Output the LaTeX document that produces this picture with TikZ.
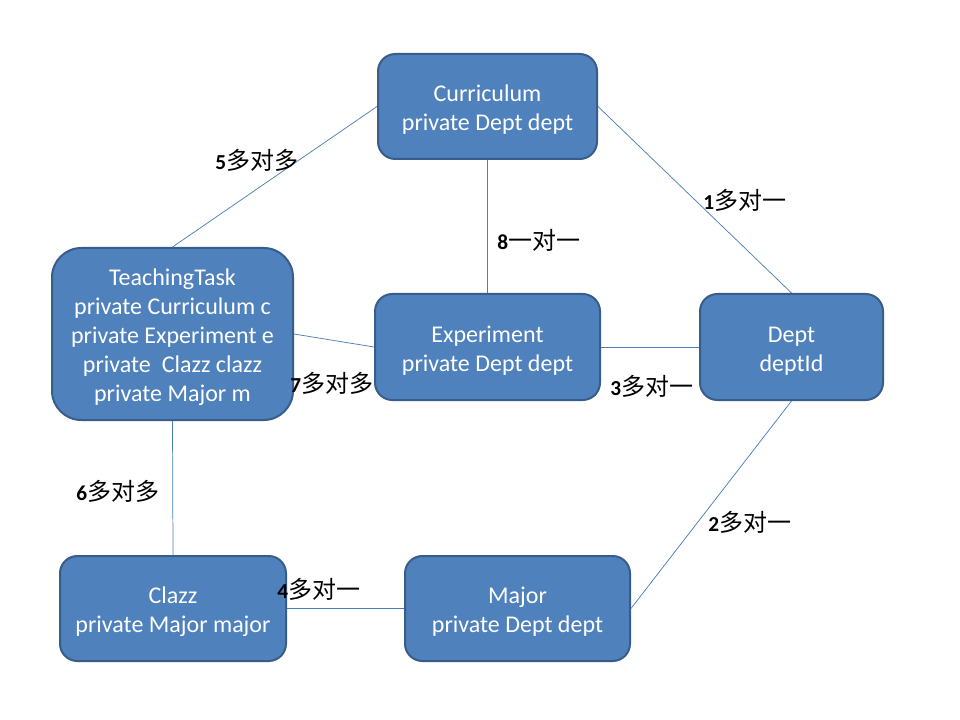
\documentclass[tikz,border=0pt]{standalone}
\usepackage{fontspec}
\setmainfont{Carlito}
\newfontfamily\cjk{Noto Sans CJK SC}
\newcommand{\tstrut}{\rule{0pt}{17.6pt}}
\begin{document}
\begin{tikzpicture}[x=0.75pt,y=-0.75pt,
  box/.style={draw=boxborder,line width=1.5pt,fill=boxfill,text=white,align=center,
    inner sep=0pt,font=\fontsize{18}{21.75}\selectfont},
  conn/.style={draw=lineblue,line width=0.55pt},
  lab/.style={anchor=west,inner sep=0pt,font=\fontsize{16}{18}\selectfont},
  cj/.style={}]
\definecolor{boxfill}{HTML}{4F81BD}
\definecolor{boxborder}{HTML}{385D8A}
\definecolor{lineblue}{HTML}{4A7EBB}
\useasboundingbox[fill=white] (0,0) rectangle (960,720);
\node[box,minimum width=219*0.75pt,minimum height=105*0.75pt,rounded corners=13pt] (cur) at (487.5,106.5) {\tstrut Curriculum\\private Dept dept};
\node[box,minimum width=241*0.75pt,minimum height=172*0.75pt,rounded corners=22pt] (tt) at (172.5,334) {\tstrut TeachingTask\\private Curriculum c\\private Experiment e\\private\ \ Clazz clazz\\private Major m};
\node[box,minimum width=225*0.75pt,minimum height=106*0.75pt,rounded corners=13pt] (exp) at (487.5,347) {\tstrut Experiment\\private Dept dept};
\node[box,minimum width=183*0.75pt,minimum height=106*0.75pt,rounded corners=13pt] (dept) at (791.5,347) {\tstrut Dept\\deptId};
\node[box,minimum width=226*0.75pt,minimum height=105*0.75pt,rounded corners=13pt] (cla) at (173,608.5) {\tstrut Clazz\\private Major major};
\node[box,minimum width=225*0.75pt,minimum height=105*0.75pt,rounded corners=13pt] (maj) at (517.5,608.5) {\tstrut Major\\private Dept dept};
\draw[conn] (cur.east) -- (dept.north);
\draw[conn] (dept.south) -- (maj.east);
\draw[conn] (exp.east) -- (dept.west);
\draw[conn] (cla.east) -- (maj.west);
\draw[conn] (cur.west) -- (tt.north);
\draw[conn] (tt.south) -- (cla.north);
\draw[conn] (tt.east) -- (exp.west);
\draw[conn] (cur.south) -- (exp.north);
\node[lab] (l1) at (703,200) {\textbf{1}{\cjk\fontsize{18}{18}\selectfont 多对一}};
\node[lab] (l2) at (708,522) {\textbf{2}{\cjk\fontsize{18}{18}\selectfont 多对一}};
\node[lab] (l3) at (610,386) {\textbf{3}{\cjk\fontsize{18}{18}\selectfont 多对一}};
\node[lab] (l4) at (277,589) {\textbf{4}{\cjk\fontsize{18}{18}\selectfont 多对一}};
\node[lab] (l5) at (215,160) {\textbf{5}{\cjk\fontsize{18}{18}\selectfont 多对多}};
\node[lab] (l6) at (76,491) {\textbf{6}{\cjk\fontsize{18}{18}\selectfont 多对多}};
\node[lab] (l7) at (290,383) {\textbf{7}{\cjk\fontsize{18}{18}\selectfont 多对多}};
\node[lab] (l8) at (497,240) {\textbf{8}{\cjk\fontsize{18}{18}\selectfont 一对一}};
\end{tikzpicture}
\end{document}
